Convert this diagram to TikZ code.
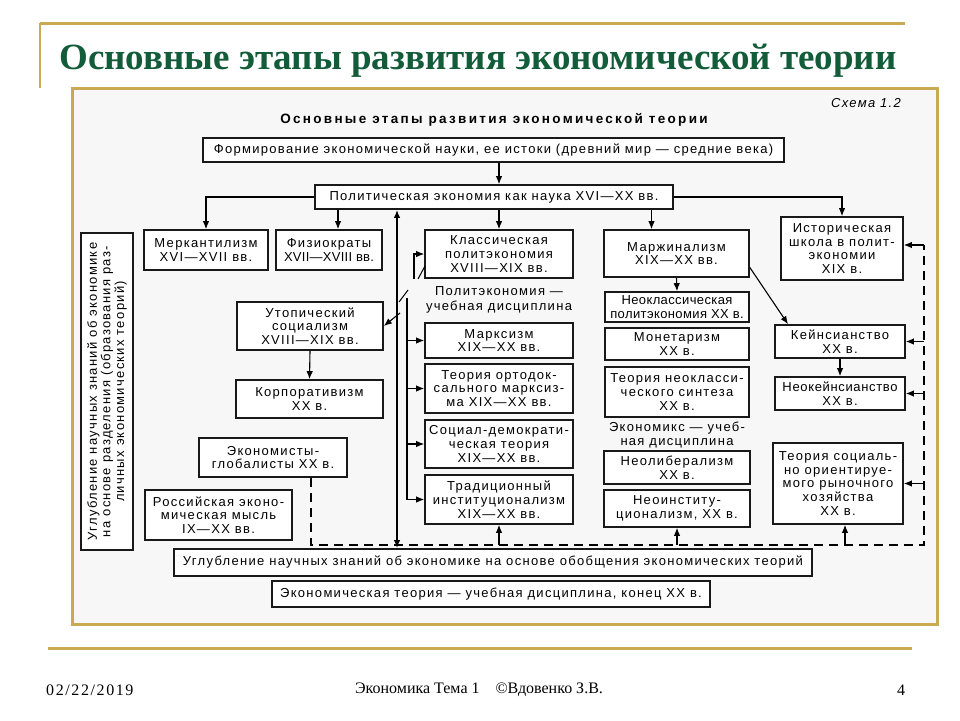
\documentclass[tikz,border=0pt]{standalone}
\usepackage{fontspec}
\setmainfont{Liberation Serif}
\newfontfamily\df[LetterSpace=10]{Liberation Sans}
\usetikzlibrary{arrows.meta}
\definecolor{gold}{RGB}{201,170,80}
\definecolor{tgreen}{RGB}{18,92,58}
\newcommand\bx[6]{\node[box,minimum width={(#4-#2)*1pt},minimum height={(#5-#3)*1pt}] (#1) at ({(#2+#4)/2},{(#3+#5)/2}) {#6};}
\newcommand\tight[1]{\addfontfeatures{LetterSpace=#1}}
\begin{document}
\begin{tikzpicture}[x=1pt,y=-1pt,
 box/.style={draw=black!90,line width=1.7pt,fill=white,align=center,inner sep=1pt,font=\df\fontsize{13}{13.7}\selectfont},
 arr/.style={line width=1.1pt,-{Latex[length=8pt,width=6.5pt]}},
 arrb/.style={line width=1.8pt,{Latex[length=8pt,width=6.5pt]}-{Latex[length=8pt,width=6.5pt]}},
 dsh/.style={line width=1.2pt,dash pattern=on 9pt off 6pt},
 lab/.style={align=center,font=\df\fontsize{13}{14.5}\selectfont,inner sep=0pt}]
\fill[white] (0,0) rectangle (960,720);
\useasboundingbox (0,0) rectangle (960,720);
% slide decoration
\draw[gold,line width=3pt] (40,23) -- (905,23);
\draw[gold,line width=1.5pt] (40,23) -- (40,88);
\node[text=tgreen,font=\fontsize{37}{42}\selectfont\bfseries,inner sep=0pt] (title) at (478,61) {Основные этапы развития экономической теории};
\draw[gold,line width=3pt,fill=black!3] (72,88) rectangle (937,624);
\draw[gold,line width=3pt] (48,648) -- (912,648);
\node[font=\fontsize{16}{18}\selectfont,anchor=west,inner sep=0pt] (date) at (46,690) {\addfontfeatures{LetterSpace=10}02/22/2019};
\node[font=\fontsize{16}{18}\selectfont,inner sep=0pt] (foot) at (479,690) {Экономика Тема 1\quad ©Вдовенко З.В.};
\node[font=\fontsize{16}{18}\selectfont,inner sep=0pt] (pnum) at (901,690) {4};
% headings
\node[font=\df\bfseries\fontsize{13.5}{15}\selectfont\addfontfeatures{LetterSpace=17},inner sep=0pt] (head) at (494,120) {Основные этапы развития экономической теории};
\node[font=\df\itshape\fontsize{13}{15}\selectfont,inner sep=0pt] (schema) at (866,103) {Схема 1.2};
% boxes
\bx{F}{203}{138}{784}{162}{Формирование экономической науки, ее истоки (древний мир — средние века)}
\bx{P}{315}{185}{673}{209}{Политическая экономия как наука XVI—XX вв.}
\bx{merc}{144}{230}{268}{270}{Меркантилизм\\XVI—XVII вв.}
\bx{phys}{276}{230}{382}{270}{Физиократы\\\tight{2}XVII—XVIII вв.}
\bx{cls}{425}{230}{573}{278}{Классическая\\политэкономия\\XVIII—XIX вв.}
\bx{marg}{604}{230}{749}{277}{Маржинализм\\XIX—XX вв.}
\bx{hist}{781}{217}{903}{280}{Историческая\\школа в полит-\\экономии\\XIX в.}
\bx{utop}{237}{302}{383}{350}{Утопический\\социализм\\XVIII—XIX вв.}
\bx{corp}{236}{380}{383}{418}{Корпоративизм\\XX в.}
\bx{glob}{199}{438}{347}{477}{Экономисты-\\глобалисты XX в.}
\bx{rus}{145}{490}{292}{540}{Российская эконо-\\мическая мысль\\IX—XX вв.}
\bx{marx}{425}{323}{573}{358}{Марксизм\\XIX—XX вв.}
\bx{orth}{425}{364}{573}{413}{Теория ортодок-\\сального марксиз-\\ма XIX—XX вв.}
\bx{socd}{425}{420}{573}{468}{Социал-демократи-\\ческая теория\\XIX—XX вв.}
\bx{trad}{425}{475}{573}{524}{Традиционный\\институционализм\\XIX—XX вв.}
\bx{neocl}{605}{292}{749}{322}{\tight{3}Неоклассическая\\\tight{3}политэкономия XX в.}
\bx{monet}{605}{328}{749}{360}{Монетаризм\\XX в.}
\bx{synth}{605}{367}{749}{417}{Теория неокласси-\\ческого синтеза\\XX в.}
\bx{neolib}{604}{451}{750}{484}{Неолиберализм\\XX в.}
\bx{neoinst}{604}{490}{750}{527}{Неоинститу-\\ционализм, XX в.}
\bx{keyn}{775}{325}{905}{358}{Кейнсианство\\XX в.}
\bx{neok}{775}{377}{905}{410}{\tight{5}Неокейнсианство\\XX в.}
\bx{soc}{773}{443}{903}{524}{Теория социаль-\\но ориентируе-\\мого рыночного\\хозяйства\\XX в.}
\bx{U}{174}{549}{812}{576}{Углубление научных знаний об экономике на основе обобщения экономических теорий}
\bx{E}{272}{581}{710}{607}{Экономическая теория — учебная дисциплина, конец XX в.}
\node[box,rotate=90,minimum width=317pt,minimum height=52pt] (left) at (107,391.5) {Углубление научных знаний об экономике\\на основе разделения (образования раз-\\личных экономических теорий)};
% free labels
\node[lab] (lab1) at (499,300) {Политэкономия —\\учебная дисциплина};
\node[lab] (lab2) at (677,435) {Экономикс — учеб-\\ная дисциплина};
% helper coordinates
\coordinate (vx) at (397,0);
\coordinate (bxl) at (407,0);
\coordinate (d1) at (311,545);
\coordinate (d2) at (924,545);
\coordinate (d3) at (924,245);
\coordinate (c1) at (414,279);
\coordinate (c2) at (400,313);
\coordinate (c3) at (407,298);
\path (phys.north) ++(9,0) coordinate (phx);
\path (marg.north) ++(-25,0) coordinate (mgx);
\path (marg.east) ++(0,14) coordinate (mk1);
\path (keyn.north) ++(-52,0) coordinate (mk2);
\path (soc.south) ++(7,0) coordinate (sx);
% connectors
\draw[arr] (F.south -| cls) -- (P.north -| cls);
\draw[arr] (P.west) -| (merc.north);
\draw[arr] (P.south -| phx) -- (phx);
\draw[arr] (P.south -| cls) -- (cls.north);
\draw[arr] (P.south -| mgx) -- (mgx);
\draw[arr] (P.east) -| (hist.north);
\draw[dsh] (glob.south -| d1) -- (d1) -- (d2) -- (d3);
\draw[arrb] (U.north -| vx) -- (P.south -| vx);
\draw[arr] (utop.south) -- (corp.north);
\draw[arr] (marg.south) -- (neocl.north);
\draw[arr] (mk1) -- (mk2);
\draw[arr] (keyn.south) -- (neok.north);
\draw[arr] (d3) -- (d3 -| hist.east);
\draw[arr] (keyn.east -| d2) -- (keyn.east);
\draw[arr] (neok.east -| d2) -- (neok.east);
\draw[arr] (soc.east -| d2) -- (soc.east);
\draw[arr] (trad.south |- d1) -- (trad.south);
\draw[arr] (neoinst.south |- d1) -- (neoinst.south);
\draw[arr] (sx |- d1) -- (sx);
\draw[line width=1.1pt] (c3) -- (bxl |- trad.west);
\foreach \n in {marx,orth,socd,trad} \draw[arr] (bxl |- \n.west) -- (\n.west);
\draw[arr] (c1) |- (cls.west);
\draw[arr] (c2) -- (utop.east);
\draw[line width=1pt] (399,302) -- (408,290);
\draw[line width=1pt] (418,279) -- (425,266);
\end{tikzpicture}
\end{document}
